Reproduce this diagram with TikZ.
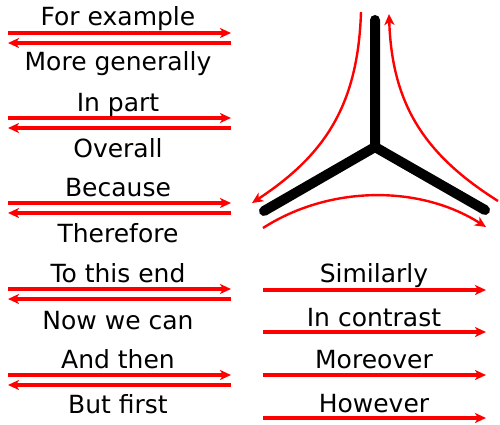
\documentclass[tikz,border=0pt]{standalone}
\usepackage{fontspec}
\setmainfont{DejaVu Sans}
\usetikzlibrary{arrows.meta}
\begin{document}
\begin{tikzpicture}[x=1pt,y=-1pt,
  lbl/.style={font=\fontsize{25}{27}\selectfont, inner sep=0pt, anchor=base},
  rarr/.style={red, line width=3.1pt, -{Stealth[length=11pt,width=10pt,inset=3pt]}},
  carr/.style={red, line width=2.4pt, -{Stealth[length=11pt,width=10pt,inset=3pt]}},
  arm/.style={line width=10pt, line cap=round}]
\useasboundingbox (0,0) rectangle (500,425);
% left column arrows
\foreach \y/\n in {33/a,118/b,203/c,289/d,375/e}{
  \coordinate (\n l1) at (8,\y); \coordinate (\n r1) at (231,\y);
  \coordinate (\n l2) at (8,\y+10); \coordinate (\n r2) at (231,\y+10);
  \draw[rarr] (\n l1) -- (\n r1);
  \draw[rarr] (\n r2) -- (\n l2);
}
% right column arrows
\foreach \y/\n in {290/f,332/g,375/h,418/i}{
  \coordinate (\n l) at (263,\y); \coordinate (\n r) at (486,\y);
  \draw[rarr] (\n l) -- (\n r);
}
% left texts
\node[lbl] (t1) at (118,26) {For example};
\node[lbl] (t2) at (118,71) {More generally};
\node[lbl] (t3) at (118,111) {In part};
\node[lbl] (t4) at (118,157) {Overall};
\node[lbl] (t5) at (118,196) {Because};
\node[lbl] (t6) at (118,242) {Therefore};
\node[lbl] (t7) at (118,282) {To this end};
\node[lbl] (t8) at (118,329) {Now we can};
\node[lbl] (t9) at (118,368) {And then};
\node[lbl] (t10) at (118,413) {But first};
% right texts
\node[lbl] (s1) at (374,282) {Similarly};
\node[lbl] (s2) at (374,326) {In contrast};
\node[lbl] (s3) at (374,368) {Moreover};
\node[lbl] (s4) at (374,412) {However};
% star
\coordinate (c) at (375,147);
\coordinate (top) at (375,20);
\coordinate (lft) at (264,211);
\coordinate (rgt) at (485,210);
\draw[arm, line join=round] (top) -- (c) -- (lft);
\draw[arm] (c) -- (rgt);
% red curves
\coordinate (p1) at (361,12); \coordinate (p2) at (252,203);
\coordinate (q1) at (498,201); \coordinate (q2) at (389,14);
\coordinate (u1) at (263,228); \coordinate (u2) at (486,227);
\draw[carr] (p1) .. controls (358,105) and (325,155) .. (p2);
\draw[carr] (q1) .. controls (425,155) and (392,105) .. (q2);
\draw[carr] (u1) .. controls (330,185) and (420,185) .. (u2);
\end{tikzpicture}
\end{document}
